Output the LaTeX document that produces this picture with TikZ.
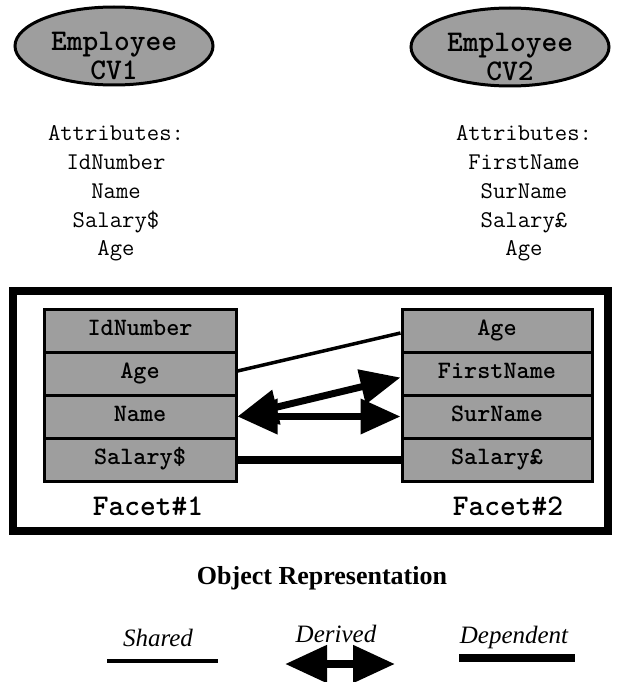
\documentclass[tikz,border=0pt]{standalone}
\usepackage{fontspec}
\setmainfont{Liberation Serif}
\usetikzlibrary{shapes.geometric,arrows.meta,calc}
\definecolor{stip}{gray}{0.62}
\begin{document}
\begin{tikzpicture}[x=1pt,y=-1pt,
  cvnode/.style={ellipse,draw,line width=3pt,fill=stip,minimum width=198pt,minimum height=78pt,inner sep=0pt},
  cvtext/.style={font=\fontsize{30}{32}\selectfont\ttfamily\bfseries,anchor=base,inner sep=0pt},
  attr/.style={font=\fontsize{24}{26}\selectfont\ttfamily,anchor=base,inner sep=0pt},
  row/.style={draw,line width=3pt,fill=stip,minimum height=43pt,inner sep=0pt,
    font=\fontsize{25}{27}\selectfont\ttfamily\bfseries,text height=15pt,text depth=5pt},
  lrow/.style={row,minimum width=192pt},
  rrow/.style={row,minimum width=190pt},
  facet/.style={font=\fontsize{30}{32}\selectfont\ttfamily\bfseries,anchor=base,inner sep=0pt},
  shared/.style={line width=3.5pt},
  derived/.style={line width=7pt,{Triangle[length=40pt,width=34pt]}-{Triangle[length=40pt,width=34pt]}},
  legarrow/.style={line width=8pt,{Triangle[length=42pt,width=36pt]}-{Triangle[length=42pt,width=36pt]}},
  dependent/.style={line width=8pt},
  title/.style={font=\fontsize{26}{28}\selectfont\bfseries,anchor=base,inner sep=0pt},
  legend/.style={font=\fontsize{25}{28}\selectfont\itshape,anchor=base,inner sep=0pt}
]
\fill[white] (0,0) rectangle (620,682);
\useasboundingbox (0,0) rectangle (620,682);

% the two conceptual views
\node[cvnode] (cv1) at (114,46) {};
\node[cvtext] (cv1a) at (114,51) {Employee};
\node[cvtext] (cv1b) at (114,80) {CV1};
\node[cvnode] (cv2) at (510,47) {};
\node[cvtext] (cv2a) at (510,52) {Employee};
\node[cvtext] (cv2b) at (510,81) {CV2};

% attribute lists
\node[attr] (a1h) at (116,140) {Attributes:};
\node[attr] (a1a) at (116,169) {IdNumber};
\node[attr] (a1b) at (116,198) {Name};
\node[attr] (a1c) at (116,227) {Salary\$};
\node[attr] (a1d) at (116,255) {Age};
\node[attr] (a2h) at (524,140) {Attributes:};
\node[attr] (a2a) at (524,169) {FirstName};
\node[attr] (a2b) at (524,198) {SurName};
\node[attr] (a2c) at (524,227) {Salary£};
\node[attr] (a2d) at (524,255) {Age};

% object representation frame
\node[draw,line width=8pt,minimum width=595pt,minimum height=240pt,inner sep=0pt] (frame) at (310.5,411) {};

% facet #1
\node[lrow] (l1) at (140,330.5) {IdNumber};
\node[lrow] (l2) at (140,373.5) {Age};
\node[lrow] (l3) at (140,416.5) {Name};
\node[lrow] (l4) at (140,459.5) {Salary\$};
% facet #2
\node[rrow] (r1) at (497,330.5) {Age};
\node[rrow] (r2) at (497,373.5) {FirstName};
\node[rrow] (r3) at (497,416.5) {SurName};
\node[rrow] (r4) at (497,459.5) {Salary£};

\node[facet] (f1) at (148,515) {Facet\#1};
\node[facet] (f2) at (508,515) {Facet\#2};

% relationships between the facets
\draw[shared] ([yshift=2.5pt]l2.east) -- ([yshift=-2.5pt]r1.west);
\draw[derived] (l3.east) -- ([yshift=-4pt]r2.west);
\draw[derived] (l3.east) -- (r3.west);
\draw[dependent] (l4.east) -- (r4.west);

\node[title] (objrep) at (322,584) {Object Representation};

% legend
\node[legend] (lgs) at (158,646) {Shared};
\node[legend] (lgd) at (336,642) {Derived};
\node[legend] (lgp) at (514,643) {Dependent};
\coordinate (sA) at (107,661);
\coordinate (sB) at (218,661);
\coordinate (dA) at (285,664);
\coordinate (dB) at (395,664);
\coordinate (pA) at (459,658);
\coordinate (pB) at (575,658);
\draw[shared] (sA) -- (sB);
\draw[legarrow] (dA) -- (dB);
\draw[dependent] (pA) -- (pB);
\end{tikzpicture}
\end{document}
